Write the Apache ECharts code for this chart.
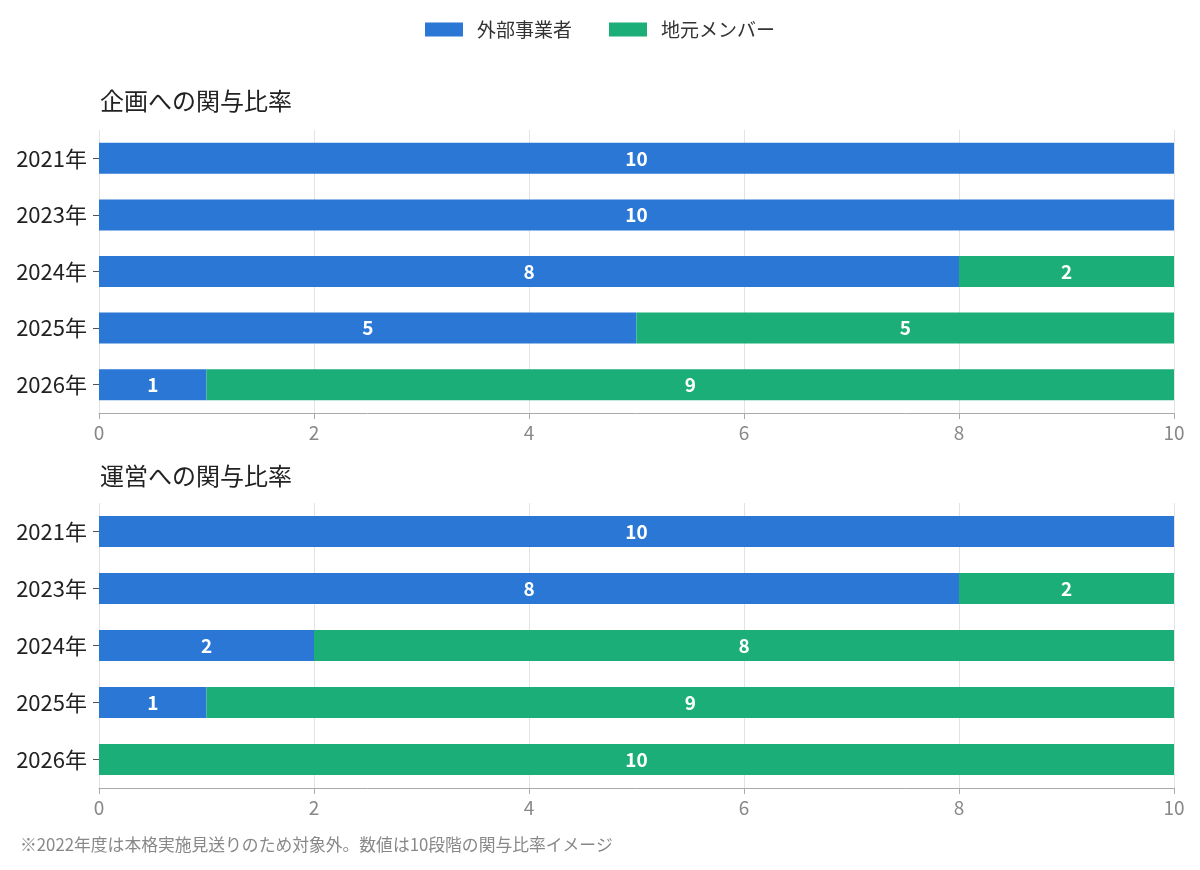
<!DOCTYPE html>
<html>
<head>
    <meta charset="utf-8">
    <title>関与比率</title>
    <script src="https://cdn.jsdelivr.net/npm/echarts@6.0.0/dist/echarts.min.js"></script>
    <style>
        html, body { margin: 0; padding: 0; background: #fff; }
    </style>
</head>
<body>
<div id="main" style="width: 1200px;height:870px;"></div>
<script type="text/javascript">

    // データ
    let years = ['2021年', '2023年', '2024年', '2025年', '2026年'];
    let planExternal = [10, 10, 8, 5, 1];
    let planLocal = [0, 0, 2, 5, 9];
    let opExternal = [10, 8, 2, 1, 0];
    let opLocal = [0, 2, 8, 9, 10];
    let xTicks = [0, 2, 4, 6, 8, 10];

    let font = '"Noto Sans CJK JP", "Noto Sans", sans-serif';
    let blue = '#2a77d6';
    let green = '#1bae78';

    function barLabel() {
        return {
            show: true,
            position: 'inside',
            color: '#fff',
            fontWeight: 'bold',
            fontSize: 19,
            fontFamily: font,
            formatter: function (p) { return p.value > 0 ? p.value : ''; }
        };
    }

    function xAxisFor(idx) {
        return {
            type: 'value',
            gridIndex: idx,
            min: 0,
            max: xTicks[xTicks.length - 1],
            interval: 2,
            axisLine: { show: true, lineStyle: { color: '#aaa' } },
            axisTick: { show: true, length: 6, lineStyle: { color: '#aaa' } },
            axisLabel: { color: '#888', fontSize: 19, fontFamily: font, margin: 10 },
            splitLine: { show: true, lineStyle: { color: '#e3e3e3' } }
        };
    }

    function yAxisFor(idx) {
        return {
            type: 'category',
            gridIndex: idx,
            data: years,
            inverse: true,
            axisLine: { show: false },
            axisTick: { show: true, alignWithLabel: true, length: 6, lineStyle: { color: '#555' } },
            axisLabel: { color: '#222', fontSize: 22, fontFamily: font, margin: 12 }
        };
    }

    function barSeries(name, data, color, idx) {
        return {
            name: name,
            type: 'bar',
            stack: 'g' + idx,
            xAxisIndex: idx,
            yAxisIndex: idx,
            barWidth: 31,
            itemStyle: { color: color },
            label: barLabel(),
            data: data
        };
    }

    let option = {
        animation: false,
        textStyle: { fontFamily: font },
        legend: {
            top: 15,
            left: 'center',
            itemWidth: 38,
            itemHeight: 14,
            itemGap: 37,
            icon: 'rect',
            textStyle: { fontSize: 19, color: '#333', fontFamily: font, padding: [0, 0, 0, 9] },
            data: ['外部事業者', '地元メンバー']
        },
        title: [
            { text: '企画への関与比率', left: 95, top: 84, textStyle: { fontSize: 24, fontWeight: 'normal', color: '#222', fontFamily: font } },
            { text: '運営への関与比率', left: 95, top: 459, textStyle: { fontSize: 24, fontWeight: 'normal', color: '#222', fontFamily: font } },
            { text: '※2022年度は本格実施見送りのため対象外。数値は10段階の関与比率イメージ', left: 15, top: 831, textStyle: { fontSize: 16.8, fontWeight: 'normal', color: '#888', fontFamily: font } }
        ],
        grid: [
            { left: 99, right: 26, top: 130, height: 283 },
            { left: 99, right: 26, top: 503, height: 285 }
        ],
        xAxis: [xAxisFor(0), xAxisFor(1)],
        yAxis: [yAxisFor(0), yAxisFor(1)],
        series: [
            barSeries('外部事業者', planExternal, blue, 0),
            barSeries('地元メンバー', planLocal, green, 0),
            barSeries('外部事業者', opExternal, blue, 1),
            barSeries('地元メンバー', opLocal, green, 1)
        ]
    };

    let myChart = echarts.init(document.getElementById('main'));
    myChart.setOption(option);
</script>
</body>
</html>
